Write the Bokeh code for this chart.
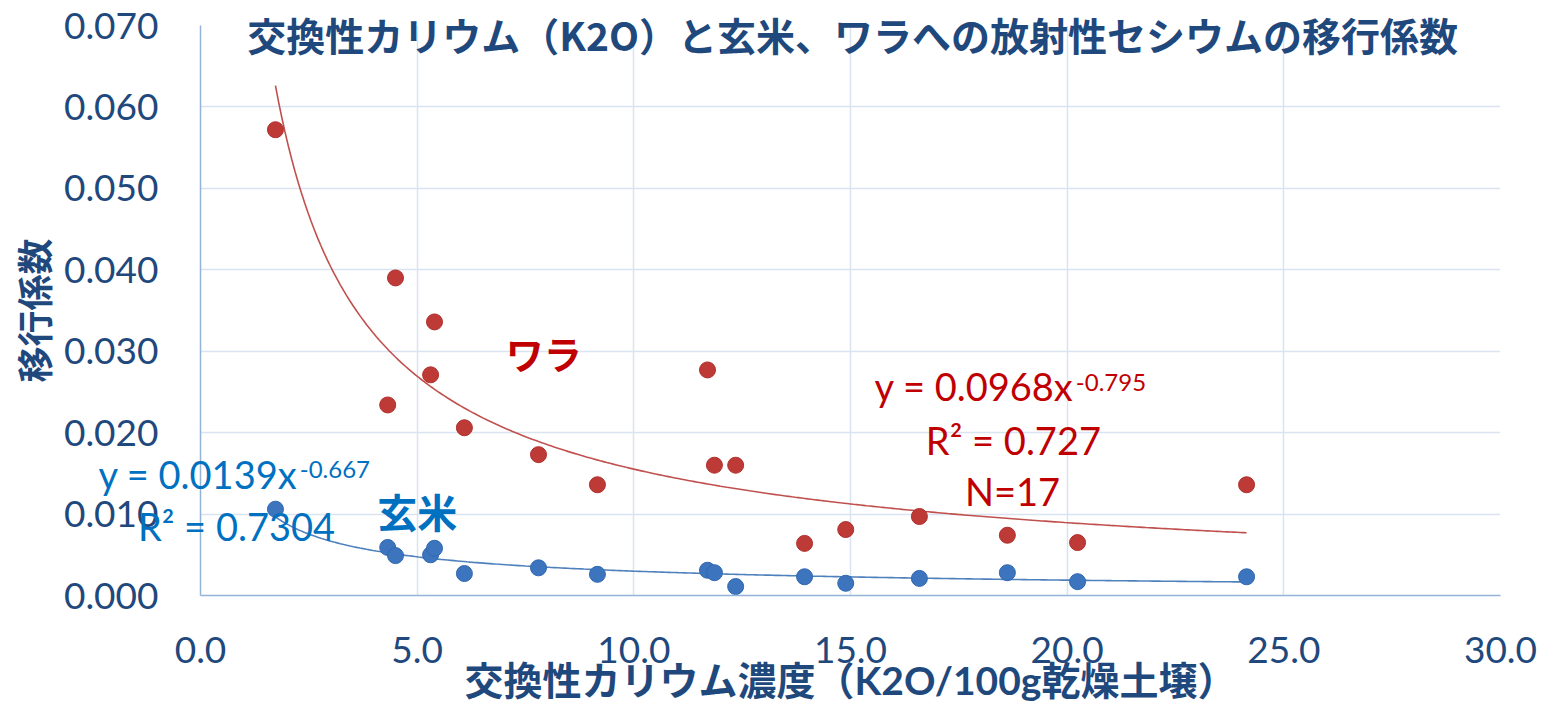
import numpy as np
from bokeh.plotting import figure
from bokeh.layouts import column
from bokeh.models import Label, NumeralTickFormatter, FixedTicker, Range1d
from bokeh.embed import file_html
from bokeh.resources import INLINE

# ---- data ----
k2o = [1.73, 4.32, 4.50, 5.31, 5.40, 6.09, 7.80, 9.16, 11.70, 11.86, 12.35,
       13.94, 14.89, 16.59, 18.62, 20.24, 24.14]
wara = [0.0572, 0.0234, 0.0390, 0.0271, 0.0336, 0.0206, 0.0173, 0.0136, 0.0277,
        0.0160, 0.0160, 0.0064, 0.0081, 0.0097, 0.0074, 0.0065, 0.0136]
genmai = [0.0106, 0.0059, 0.0049, 0.0050, 0.0058, 0.0027, 0.0034, 0.0026, 0.0031,
          0.0028, 0.0011, 0.0023, 0.0015, 0.0021, 0.0028, 0.0017, 0.0023]

# power trendline coefficients shown on the chart
wara_a, wara_b = 0.0968, -0.795
genmai_a, genmai_b = 0.0139, -0.667

x_ticks = [0, 5, 10, 15, 20, 25, 30]
y_ticks = [0.0, 0.01, 0.02, 0.03, 0.04, 0.05, 0.06, 0.07]

title_text = "交換性カリウム（K2O）と玄米、ワラへの放射性セシウムの移行係数"
x_title = "交換性カリウム濃度（K2O/100g乾燥土壌）"
y_title = "移行係数"

DARK = "#1F497D"
RED_TXT = "#C00000"
BLUE_TXT = "#0070C0"
JP = "Noto Sans CJK JP"
NUM = "Lato"
STACK = "Lato, 'Noto Sans CJK JP'"

W, H = 1544, 712
B_LEFT, B_RIGHT, B_TOP, B_BOTTOM = 200, 44, 25, 117
X0, X1, Y0, Y1 = 0, 30, 0, 0.07

p = figure(width=W, height=H, output_backend="svg", toolbar_location=None,
           x_range=Range1d(X0, X1), y_range=Range1d(Y0, Y1),
           min_border_left=B_LEFT, min_border_right=B_RIGHT, min_border_top=B_TOP,
           min_border_bottom=B_BOTTOM)
p.outline_line_color = None
p.background_fill_color = "white"
p.border_fill_color = "white"
p.frame_align = False

for ax in (p.xaxis[0], p.yaxis[0]):
    ax.major_tick_line_color = None
    ax.minor_tick_line_color = None
    ax.axis_line_color = "#95B3D7"
    ax.axis_line_width = 1.5
    ax.major_label_text_font = NUM
    ax.major_label_text_font_size = "37px"
    ax.major_label_text_color = DARK
    ax.axis_label_text_font = STACK
    ax.axis_label_text_font_style = "bold"
    ax.axis_label_text_color = DARK

p.xaxis[0].ticker = FixedTicker(ticks=x_ticks)
p.yaxis[0].ticker = FixedTicker(ticks=y_ticks)
p.xaxis[0].formatter = NumeralTickFormatter(format="0.0")
p.yaxis[0].formatter = NumeralTickFormatter(format="0.000")
p.xaxis[0].major_label_standoff = 35
p.yaxis[0].major_label_standoff = 36
p.xaxis[0].axis_label = x_title
p.xaxis[0].axis_label_text_font_size = "39px"
p.xaxis[0].axis_label_standoff = -9
p.yaxis[0].axis_label = y_title
p.yaxis[0].axis_label_text_font_size = "36px"
p.yaxis[0].axis_label_standoff = 4

p.xgrid.ticker = FixedTicker(ticks=x_ticks)
p.ygrid.ticker = FixedTicker(ticks=y_ticks)
p.xgrid.grid_line_color = "#D9E4F2"
p.ygrid.grid_line_color = "#D9E4F2"
p.xgrid.grid_line_width = 1.5
p.ygrid.grid_line_width = 1.5

# trendlines
xr = np.linspace(min(k2o), max(k2o), 300)
p.line(xr, wara_a * xr ** wara_b, line_color="#C0504D", line_width=1.6)
p.line(xr, genmai_a * xr ** genmai_b, line_color="#4F81BD", line_width=1.6)

# points
p.scatter(k2o, wara, size=16, fill_color="#BE3A36", line_color="#B0302D", line_width=1)
p.scatter(k2o, genmai, size=16, fill_color="#3D74BE", line_color="#3068B0", line_width=1)

# transparent overlay with the same data mapping, covering the whole canvas,
# so that texts reaching outside the plot area are not clipped
xs = (X1 - X0) / (W - B_LEFT - B_RIGHT)
ys = (Y1 - Y0) / (H - B_TOP - B_BOTTOM)
ov = figure(width=W, height=H, output_backend="svg", toolbar_location=None,
            x_range=Range1d(X0 - B_LEFT * xs, X1 + B_RIGHT * xs),
            y_range=Range1d(Y0 - B_BOTTOM * ys, Y1 + B_TOP * ys),
            x_axis_type=None, y_axis_type=None, min_border=0)
ov.outline_line_color = None
ov.background_fill_color = None
ov.border_fill_color = None
ov.frame_align = False
ov.margin = (-H, 0, 0, 0)

def lab(fig, x, y, text, size, color, font=NUM, align="center", style="normal"):
    fig.add_layout(Label(x=x, y=y, text=text, text_font=font, text_font_size=size,
                         text_color=color, text_align=align, text_baseline="middle",
                         text_font_style=style))

# chart title
lab(ov, 15.05, 0.0689, title_text, "39px", DARK, font=JP, style="bold")

# series labels
lab(p, 7.92, 0.0298, "ワラ", "38px", RED_TXT, font=JP, style="bold")
lab(p, 5.0, 0.0104, "玄米", "40px", BLUE_TXT, font=JP, style="bold")

# red equation
lab(p, 20.15, 0.02575, "y = 0.0968x", "38px", RED_TXT, align="right")
lab(p, 20.2, 0.0262, "-0.795", "24px", RED_TXT, align="left")
lab(p, 18.76, 0.0191, "R² = 0.727", "38px", RED_TXT)
lab(p, 18.74, 0.0128, "N=17", "38px", RED_TXT)

# blue equation (reaches left of the plot area -> overlay)
lab(ov, 2.24, 0.01486, "y = 0.0139x", "38px", BLUE_TXT, align="right")
lab(ov, 2.29, 0.01544, "-0.667", "24px", BLUE_TXT, align="left")
lab(ov, 0.83, 0.00848, "R² = 0.7304", "38px", BLUE_TXT)

layout = column(p, ov, spacing=0)
open("out.html", "w").write(file_html(layout, INLINE))
